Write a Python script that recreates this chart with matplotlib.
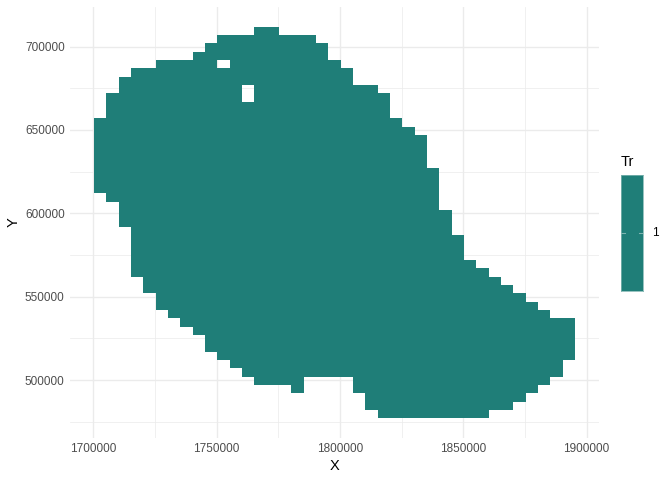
"""
Raster map of the Tr layer, drawn in the ggplot theme_minimal look.
"""

import matplotlib
matplotlib.use('Agg')
import matplotlib.pyplot as plt
import numpy as np

plt.rcParams['font.family'] = ['Liberation Sans', 'DejaVu Sans']

# Raster columns: upper and lower edge of each 5000 wide column, left to right
col_top = [657000, 672000, 682000, 687000, 687000, 692000, 692000, 692000, 697000, 702000,
           707000, 707000, 707000, 712000, 712000, 707000, 707000, 707000, 702000, 692000,
           687000, 677000, 677000, 672000, 657000, 652000, 647000, 627000, 602000, 587000,
           572000, 567000, 562000, 557000, 552000, 547000, 542000, 537000, 537000]
col_bottom = [612000, 607000, 592000, 562000, 552000, 542000, 537000, 532000, 527000, 517000,
              512000, 507000, 502000, 497000, 497000, 497000, 492000, 502000, 502000, 502000,
              502000, 492000, 482000, 477000, 477000, 477000, 477000, 477000, 477000, 477000,
              477000, 477000, 482000, 482000, 487000, 492000, 497000, 502000, 512000]

# Holes in the raster: column number, upper edge, lower edge
hole_col = [10, 12]
hole_top = [692000, 677000]
hole_bottom = [687000, 667000]

raster_left = 1700300
raster_bottom = 477000
cell = 5000
tr_value = 1

x_major = [1700000, 1750000, 1800000, 1850000, 1900000]
x_minor = [1725000, 1775000, 1825000, 1875000]
y_major = [500000, 550000, 600000, 650000, 700000]
y_minor = [475000, 525000, 575000, 625000, 675000]

FILL = '#1F7E78'
GRID = '#EBEBEB'
TICK_TEXT = '#4D4D4D'


def build_grid():
    """Turn the column extents into a masked array for pcolormesh."""
    x_edges = raster_left + cell * np.arange(len(col_top) + 1)
    y_edges = raster_bottom + cell * np.arange((max(col_top) - raster_bottom) // cell + 1)
    y_centres = (y_edges[:-1] + y_edges[1:]) / 2
    z = np.full((len(y_centres), len(col_top)), np.nan)
    for i, (top, bottom) in enumerate(zip(col_top, col_bottom)):
        z[(y_centres < top) & (y_centres > bottom), i] = tr_value
    for i, top, bottom in zip(hole_col, hole_top, hole_bottom):
        z[(y_centres < top) & (y_centres > bottom), i] = np.nan
    return x_edges, y_edges, np.ma.masked_invalid(z)


fig = plt.figure(figsize=(7, 5), dpi=96)
ax = fig.add_axes([70 / 672, 1 - 438 / 480, 529 / 672, 431 / 480])

x_edges, y_edges, z = build_grid()
ax.pcolormesh(x_edges, y_edges, z, cmap=matplotlib.colors.ListedColormap([FILL]), zorder=3)

# 5% expansion either side, same as the ggplot default
x_pad = (x_edges[-1] - x_edges[0]) * 0.05
y_pad = (y_edges[-1] - y_edges[0]) * 0.05
ax.set_xlim(x_edges[0] - x_pad, x_edges[-1] + x_pad)
ax.set_ylim(y_edges[0] - y_pad, y_edges[-1] + y_pad)

ax.set_xticks(x_major)
ax.set_yticks(y_major)
ax.set_xticks(x_minor, minor=True)
ax.set_yticks(y_minor, minor=True)
ax.set_xticklabels([str(v) for v in x_major])
ax.set_yticklabels([str(v) for v in y_major])
ax.grid(which='major', color=GRID, linewidth=1.05, zorder=0)
ax.grid(which='minor', color=GRID, linewidth=0.55, zorder=0)
ax.set_axisbelow(True)
ax.tick_params(which='both', length=0)
ax.tick_params(axis='both', labelsize=8.8, labelcolor=TICK_TEXT, pad=4)
for spine in ax.spines.values():
    spine.set_visible(False)

ax.set_xlabel('X', fontsize=11, color='black', labelpad=2.5)
ax.set_ylabel('Y', fontsize=11, color='black', labelpad=3)

# Legend colour bar
cax = fig.add_axes([620.7 / 672, 1 - 290.7 / 480, 22.6 / 672, 115.4 / 480])
cax.set_facecolor(FILL)
cax.set_xlim(0, 1)
cax.set_ylim(0, 1)
cax.set_xticks([])
cax.set_yticks([])
for spine in cax.spines.values():
    spine.set_color('#7FB5B1')
    spine.set_linewidth(0.6)
cax.plot([0, 0.2], [0.5, 0.5], color='#7FB5B1', linewidth=0.8)
cax.plot([0.8, 1], [0.5, 0.5], color='#7FB5B1', linewidth=0.8)
fig.text(652 / 672, 1 - 233.5 / 480, str(tr_value), fontsize=8.8, color='black', ha='left', va='center')
fig.text(620.7 / 672, 1 - 162 / 480, 'Tr', fontsize=11, color='black', ha='left', va='center')

fig.savefig('out.png', dpi=96, facecolor='white')
plt.close(fig)
